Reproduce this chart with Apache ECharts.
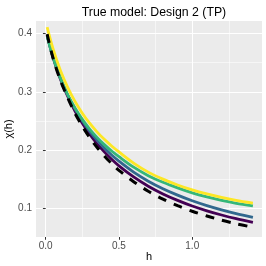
<!DOCTYPE html>
<html><head><meta charset="utf-8">
<script src="https://cdn.jsdelivr.net/npm/echarts@6/dist/echarts.min.js"></script>
<style>html,body{margin:0;padding:0;background:#fff}#c{width:266px;height:266px}</style>
</head><body><div id="c"></div>
<script>
var hValues    = [0.01, 0.05, 0.1, 0.15, 0.2, 0.25, 0.3, 0.35, 0.4, 0.45, 0.5, 0.6, 0.7, 0.8, 0.9, 1.0, 1.1, 1.2, 1.3, 1.414];
var yellowVals = [0.411, 0.374, 0.337, 0.3077, 0.2835, 0.2633, 0.2460, 0.2312, 0.2183, 0.2069, 0.1967, 0.1775, 0.1620, 0.1500, 0.1400, 0.1315, 0.1245, 0.1185, 0.1135, 0.1088];
var greenVals  = [0.395, 0.3593, 0.3238, 0.2953, 0.2721, 0.2526, 0.2360, 0.2217, 0.2093, 0.1983, 0.1886, 0.1705, 0.1560, 0.1445, 0.1350, 0.1265, 0.1195, 0.1135, 0.1085, 0.1041];
var blueVals   = [0.396, 0.360, 0.324, 0.2945, 0.271, 0.2505, 0.2325, 0.217, 0.2035, 0.1915, 0.1808, 0.1620, 0.1465, 0.1335, 0.1225, 0.1128, 0.1045, 0.0972, 0.0907, 0.0844];
var purpleVals = [0.3975, 0.359, 0.322, 0.2923, 0.267, 0.2458, 0.227, 0.2109, 0.1968, 0.1842, 0.1729, 0.1538, 0.1379, 0.1246, 0.1135, 0.1038, 0.0956, 0.0884, 0.0821, 0.0759];
var trueVals   = [0.399, 0.358, 0.320, 0.290, 0.263, 0.241, 0.2215, 0.2048, 0.190, 0.1768, 0.165, 0.1456, 0.1292, 0.1157, 0.1044, 0.0948, 0.0867, 0.0796, 0.0734, 0.0673];
var xMajorTicks = [0, 0.5, 1.0];
var xMinorTicks = [0.25, 0.75, 1.25];
var yMajorTicks = [0.1, 0.2, 0.3, 0.4];
var yMinorTicks = [0.15, 0.25, 0.35];

function pairs(vals){ return hValues.map(function(h,i){ return [h, vals[i]]; }); }

var chart = echarts.init(document.getElementById('c'), null, {renderer:'canvas'});
var font = '"Liberation Sans", Arial, sans-serif';
var xr = {min:-0.066, max:1.476};
var yr = {min:0.0506, max:0.4216};
function mkLine(name, vals, color, z, dashed){
  return {name:name, type:'line', data:pairs(vals), showSymbol:false, symbol:'none',
    smooth:0.3, z:z, animation:false,
    lineStyle:{color:color, width:dashed?3:2.8, type:dashed?[9,8]:'solid', cap:'butt'}};
}
chart.setOption({
  animation:false,
  backgroundColor:'#ffffff',
  title:{text:'True model: Design 2 (TP)', left:149, top:2, textAlign:'center',
    textStyle:{fontFamily:font, fontSize:12.3, fontWeight:'normal', color:'#000'}},
  grid:{left:36, right:4, top:21, bottom:29, show:true, backgroundColor:'#EBEBEB', borderWidth:0,
    containLabel:false, outerBoundsMode:'none'},
  xAxis:[
    {type:'value', min:xr.min, max:xr.max, name:'h', nameLocation:'middle', nameGap:14.5,
     nameMoveOverlap:false,
     nameTextStyle:{fontFamily:font, fontSize:11, color:'#000'},
     axisLine:{show:false},
     axisTick:{show:true, customValues:xMajorTicks, length:2.75, lineStyle:{color:'#333333', width:1}},
     axisLabel:{customValues:xMajorTicks, fontFamily:font, fontSize:10, color:'#4D4D4D', margin:4.5,
       formatter:function(v){return v.toFixed(1);}},
     splitLine:{show:true, lineStyle:{color:'#FFFFFF', width:1.1}}},
    {type:'value', min:xr.min, max:xr.max, position:'bottom',
     axisLine:{show:false},
     axisTick:{show:true, customValues:xMinorTicks, length:0, lineStyle:{opacity:0}},
     axisLabel:{show:false},
     splitLine:{show:true, lineStyle:{color:'#FFFFFF', width:0.55}}}
  ],
  yAxis:[
    {type:'value', min:yr.min, max:yr.max, name:'χ(h)', nameLocation:'middle', nameGap:21.5,
     nameMoveOverlap:false,
     nameTextStyle:{fontFamily:font, fontSize:11, color:'#000'},
     axisLine:{show:false},
     axisTick:{show:true, customValues:yMajorTicks, length:2.75, lineStyle:{color:'#333333', width:1}},
     axisLabel:{customValues:yMajorTicks, fontFamily:font, fontSize:10, color:'#4D4D4D', margin:4,
       formatter:function(v){return v.toFixed(1);}},
     splitLine:{show:true, lineStyle:{color:'#FFFFFF', width:1.1}}},
    {type:'value', min:yr.min, max:yr.max, position:'left',
     axisLine:{show:false},
     axisTick:{show:true, customValues:yMinorTicks, length:0, lineStyle:{opacity:0}},
     axisLabel:{show:false},
     splitLine:{show:true, lineStyle:{color:'#FFFFFF', width:0.55}}}
  ],
  series:[
    mkLine('m1', purpleVals, '#440154', 2, false),
    mkLine('m2', blueVals, '#31688E', 3, false),
    mkLine('m3', greenVals, '#35B779', 4, false),
    mkLine('m4', yellowVals, '#FDE725', 5, false),
    mkLine('true', trueVals, '#000000', 6, true)
  ]
});
</script></body></html>
